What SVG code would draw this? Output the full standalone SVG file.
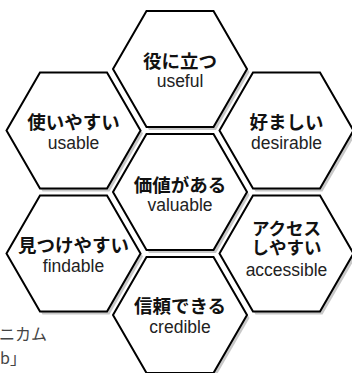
<svg xmlns="http://www.w3.org/2000/svg" xmlns:xlink="http://www.w3.org/1999/xlink" width="352" height="373" viewBox="0 0 352 373">
  <style>
    .shadow { fill: #c8c8c8; stroke: none; }
    .hex { fill: #ffffff; stroke: #000000; stroke-width: 2; stroke-linejoin: miter; }
    .ja { font-family: "Noto Sans CJK JP", "Noto Sans", sans-serif; font-weight: bold; font-size: 18.5px; fill: #111111; text-anchor: middle; }
    .ja2 { font-family: "Noto Sans CJK JP", "Noto Sans", sans-serif; font-weight: bold; font-size: 17.5px; fill: #111111; text-anchor: middle; }
    .en { font-family: "Liberation Sans", Arial, sans-serif; font-size: 17.5px; fill: #222222; text-anchor: middle; }
    .note { font-family: "Noto Sans CJK JP", "Noto Sans", sans-serif; font-size: 16px; fill: #444444; }
  </style>
  <defs>
    <polygon id="hexShape" points="-67,0 -33.5,-58 33.5,-58 67,0 33.5,58 -33.5,58"/>
  </defs>
  <rect x="0" y="0" width="352" height="373" fill="#ffffff"/>

  <g id="note">
    <text class="note" x="-1" y="340">ニカム</text>
    <text class="note" x="0" y="364">b」</text>
  </g>

  <g id="connectors"></g>

  <g id="useful" transform="translate(180,69)">
    <use xlink:href="#hexShape" href="#hexShape" class="shadow" x="2.5" y="3"/>
    <use xlink:href="#hexShape" href="#hexShape" class="hex"/>
    <text class="ja" x="0" y="-1.5">役に立つ</text>
    <text class="en" x="0" y="18">useful</text>
  </g>

  <g id="usable" transform="translate(73.5,130.5)">
    <use xlink:href="#hexShape" href="#hexShape" class="shadow" x="2.5" y="3"/>
    <use xlink:href="#hexShape" href="#hexShape" class="hex"/>
    <text class="ja" x="0" y="-1.5">使いやすい</text>
    <text class="en" x="0" y="18">usable</text>
  </g>

  <g id="desirable" transform="translate(286.5,130.5)">
    <use xlink:href="#hexShape" href="#hexShape" class="shadow" x="2.5" y="3"/>
    <use xlink:href="#hexShape" href="#hexShape" class="hex"/>
    <text class="ja" x="0" y="-1.5">好ましい</text>
    <text class="en" x="0" y="18">desirable</text>
  </g>

  <g id="valuable" transform="translate(180,192)">
    <use xlink:href="#hexShape" href="#hexShape" class="shadow" x="2.5" y="3"/>
    <use xlink:href="#hexShape" href="#hexShape" class="hex"/>
    <text class="ja" x="0" y="-0.5">価値がある</text>
    <text class="en" x="0" y="19">valuable</text>
  </g>

  <g id="findable" transform="translate(73.5,253.5)">
    <use xlink:href="#hexShape" href="#hexShape" class="shadow" x="2.5" y="3"/>
    <use xlink:href="#hexShape" href="#hexShape" class="hex"/>
    <text class="ja" x="0" y="-1.5">見つけやすい</text>
    <text class="en" x="0" y="18">findable</text>
  </g>

  <g id="accessible" transform="translate(286.5,253.5)">
    <use xlink:href="#hexShape" href="#hexShape" class="shadow" x="2.5" y="3"/>
    <use xlink:href="#hexShape" href="#hexShape" class="hex"/>
    <text class="ja2" x="0" y="-18.5">アクセス<tspan x="0" dy="19">しやすい</tspan></text>
    <text class="en" x="0" y="22">accessible</text>
  </g>

  <g id="credible" transform="translate(180,315)">
    <use xlink:href="#hexShape" href="#hexShape" class="shadow" x="2.5" y="3"/>
    <use xlink:href="#hexShape" href="#hexShape" class="hex"/>
    <text class="ja" x="0" y="-2.5">信頼できる</text>
    <text class="en" x="0" y="18">credible</text>
  </g>
</svg>
